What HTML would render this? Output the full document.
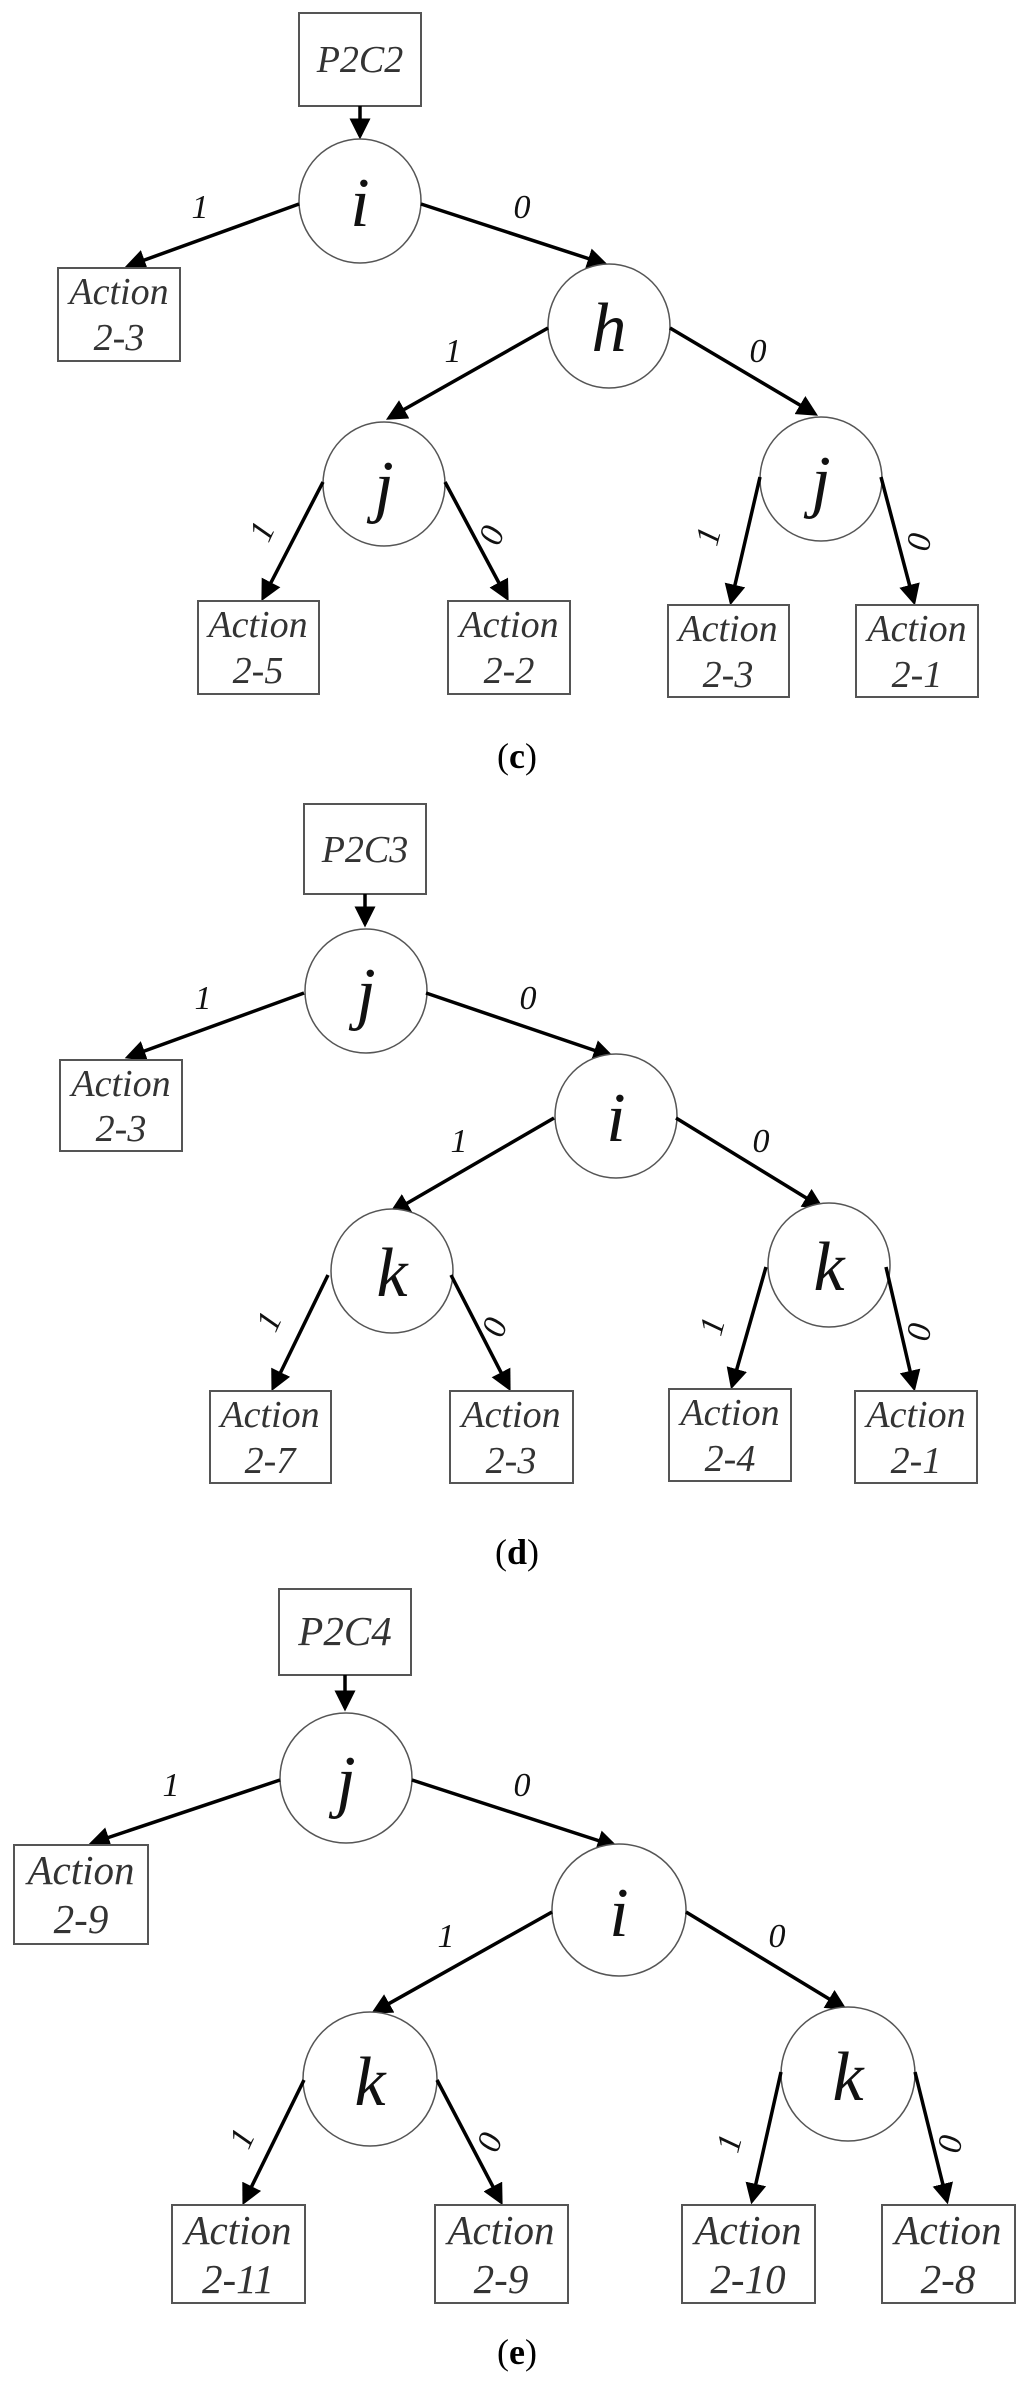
<!DOCTYPE html>
<html><head><meta charset="utf-8"><style>
html,body{margin:0;padding:0;background:#fff;}
svg{display:block;}
.b{fill:#fff;stroke:#555;stroke-width:2;}
.c{fill:#fff;stroke:#555;stroke-width:1.5;}
.e{stroke:#000;stroke-width:3.5;fill:none;marker-end:url(#ah);}
.t{font-family:"Liberation Serif",serif;font-style:italic;fill:#333;text-anchor:middle;}
.a{font-size:38px;}
.a2{font-size:41px;}
.n{font-size:70px;fill:#111;}
.l{font-family:"Liberation Serif",serif;font-style:italic;font-size:34px;fill:#111;text-anchor:middle;}
.cap{font-family:"Liberation Serif",serif;font-size:36px;text-anchor:middle;fill:#000;}
</style></head><body>
<svg width="1024" height="2390" viewBox="0 0 1024 2390" xmlns="http://www.w3.org/2000/svg">
<defs><marker id="ah" markerWidth="6" markerHeight="6" refX="5" refY="3" orient="auto" markerUnits="strokeWidth"><path d="M0,0 L6,3 L0,6 z" fill="#000"/></marker></defs>

<!-- (c) -->
<rect class="b" x="299" y="13" width="122" height="93"/>
<text class="t a" x="360" y="72">P2C2</text>
<line class="e" x1="360" y1="106" x2="360" y2="136"/>
<ellipse class="c" cx="360" cy="201" rx="61" ry="62"/>
<text class="t n" x="360" y="226">i</text>
<line class="e" x1="299" y1="204" x2="128" y2="266"/>
<line class="e" x1="421" y1="204" x2="605" y2="264"/>
<rect class="b" x="58" y="268" width="122" height="93"/>
<text class="t a" x="119" y="304">Action</text><text class="t a" x="119" y="350">2-3</text>
<text class="l" x="200" y="218">1</text><text class="l" x="522" y="218">0</text>
<ellipse class="c" cx="609" cy="326" rx="61" ry="62"/>
<text class="t n" x="609" y="351">h</text>
<line class="e" x1="548" y1="328" x2="389" y2="418"/>
<line class="e" x1="670" y1="328" x2="815" y2="414"/>
<text class="l" x="453" y="362">1</text><text class="l" x="758" y="362">0</text>
<ellipse class="c" cx="384" cy="484" rx="61" ry="62"/>
<text class="t n" x="384" y="509">j</text>
<ellipse class="c" cx="821" cy="479" rx="61" ry="62"/>
<text class="t n" x="821" y="504">j</text>
<line class="e" x1="323" y1="482" x2="263" y2="598"/>
<line class="e" x1="445" y1="482" x2="507" y2="598"/>
<line class="e" x1="760" y1="477" x2="731" y2="602"/>
<line class="e" x1="881" y1="477" x2="914" y2="602"/>
<text class="l" transform="translate(272,536) rotate(-65)">1</text>
<text class="l" transform="translate(502,539) rotate(-70)">0</text>
<text class="l" transform="translate(719,539) rotate(-75)">1</text>
<text class="l" transform="translate(930,544) rotate(-80)">0</text>
<rect class="b" x="198" y="601" width="121" height="93"/><text class="t a" x="258" y="637">Action</text><text class="t a" x="258" y="683">2-5</text>
<rect class="b" x="448" y="601" width="122" height="93"/><text class="t a" x="509" y="637">Action</text><text class="t a" x="509" y="683">2-2</text>
<rect class="b" x="668" y="605" width="121" height="92"/><text class="t a" x="728" y="641">Action</text><text class="t a" x="728" y="687">2-3</text>
<rect class="b" x="856" y="605" width="122" height="92"/><text class="t a" x="917" y="641">Action</text><text class="t a" x="917" y="687">2-1</text>
<text class="cap" x="517" y="768">(<tspan font-weight="bold">c</tspan>)</text>

<!-- (d) -->
<rect class="b" x="304" y="804" width="122" height="90"/>
<text class="t a" x="365" y="862">P2C3</text>
<line class="e" x1="365" y1="894" x2="365" y2="924"/>
<ellipse class="c" cx="366" cy="991" rx="61" ry="62"/>
<text class="t n" x="366" y="1016">j</text>
<line class="e" x1="304" y1="993" x2="128" y2="1057"/>
<line class="e" x1="426" y1="993" x2="611" y2="1056"/>
<rect class="b" x="60" y="1060" width="122" height="91"/>
<text class="t a" x="121" y="1096">Action</text><text class="t a" x="121" y="1141">2-3</text>
<text class="l" x="203" y="1009">1</text><text class="l" x="528" y="1009">0</text>
<ellipse class="c" cx="616" cy="1116" rx="61" ry="62"/>
<text class="t n" x="616" y="1141">i</text>
<line class="e" x1="554" y1="1118" x2="392" y2="1212"/>
<line class="e" x1="676" y1="1118" x2="821" y2="1207"/>
<text class="l" x="459" y="1152">1</text><text class="l" x="761" y="1152">0</text>
<ellipse class="c" cx="392" cy="1271" rx="61" ry="62"/>
<text class="t n" x="392" y="1296">k</text>
<ellipse class="c" cx="829" cy="1265" rx="61" ry="62"/>
<text class="t n" x="829" y="1290">k</text>
<line class="e" x1="328" y1="1275" x2="273" y2="1388"/>
<line class="e" x1="451" y1="1275" x2="509" y2="1388"/>
<line class="e" x1="766" y1="1267" x2="732" y2="1386"/>
<line class="e" x1="886" y1="1267" x2="914" y2="1388"/>
<text class="l" transform="translate(279,1326) rotate(-65)">1</text>
<text class="l" transform="translate(505,1331) rotate(-70)">0</text>
<text class="l" transform="translate(723,1329) rotate(-75)">1</text>
<text class="l" transform="translate(930,1334) rotate(-80)">0</text>
<rect class="b" x="210" y="1391" width="121" height="92"/><text class="t a" x="270" y="1427">Action</text><text class="t a" x="270" y="1473">2-7</text>
<rect class="b" x="450" y="1391" width="123" height="92"/><text class="t a" x="511" y="1427">Action</text><text class="t a" x="511" y="1473">2-3</text>
<rect class="b" x="669" y="1389" width="122" height="92"/><text class="t a" x="730" y="1425">Action</text><text class="t a" x="730" y="1471">2-4</text>
<rect class="b" x="855" y="1391" width="122" height="92"/><text class="t a" x="916" y="1427">Action</text><text class="t a" x="916" y="1473">2-1</text>
<text class="cap" x="517" y="1564">(<tspan font-weight="bold">d</tspan>)</text>

<!-- (e) -->
<rect class="b" x="279" y="1589" width="132" height="86"/>
<text class="t a2" x="345" y="1645">P2C4</text>
<line class="e" x1="345" y1="1675" x2="345" y2="1708"/>
<ellipse class="c" cx="346" cy="1778" rx="66" ry="65"/>
<text class="t n" x="346" y="1804">j</text>
<line class="e" x1="280" y1="1780" x2="92" y2="1843"/>
<line class="e" x1="412" y1="1780" x2="615" y2="1846"/>
<rect class="b" x="14" y="1845" width="134" height="99"/>
<text class="t a2" x="81" y="1884">Action</text><text class="t a2" x="81" y="1933">2-9</text>
<text class="l" x="171" y="1796">1</text><text class="l" x="522" y="1796">0</text>
<ellipse class="c" cx="619" cy="1910" rx="67" ry="66"/>
<text class="t n" x="619" y="1936">i</text>
<line class="e" x1="552" y1="1912" x2="374" y2="2012"/>
<line class="e" x1="686" y1="1912" x2="844" y2="2008"/>
<text class="l" x="446" y="1947">1</text><text class="l" x="777" y="1947">0</text>
<ellipse class="c" cx="370" cy="2079" rx="67" ry="67"/>
<text class="t n" x="370" y="2105">k</text>
<ellipse class="c" cx="848" cy="2074" rx="67" ry="67"/>
<text class="t n" x="848" y="2100">k</text>
<line class="e" x1="304" y1="2080" x2="244" y2="2202"/>
<line class="e" x1="437" y1="2080" x2="501" y2="2202"/>
<line class="e" x1="781" y1="2072" x2="752" y2="2201"/>
<line class="e" x1="915" y1="2072" x2="947" y2="2201"/>
<text class="l" transform="translate(252,2143) rotate(-65)">1</text>
<text class="l" transform="translate(500,2146) rotate(-70)">0</text>
<text class="l" transform="translate(740,2146) rotate(-75)">1</text>
<text class="l" transform="translate(961,2146) rotate(-80)">0</text>
<rect class="b" x="172" y="2205" width="133" height="98"/><text class="t a2" x="238" y="2244">Action</text><text class="t a2" x="238" y="2293">2-11</text>
<rect class="b" x="435" y="2205" width="133" height="98"/><text class="t a2" x="501" y="2244">Action</text><text class="t a2" x="501" y="2293">2-9</text>
<rect class="b" x="682" y="2205" width="133" height="98"/><text class="t a2" x="748" y="2244">Action</text><text class="t a2" x="748" y="2293">2-10</text>
<rect class="b" x="882" y="2205" width="133" height="98"/><text class="t a2" x="948" y="2244">Action</text><text class="t a2" x="948" y="2293">2-8</text>
<text class="cap" x="517" y="2364">(<tspan font-weight="bold">e</tspan>)</text>
</svg>
</body></html>
